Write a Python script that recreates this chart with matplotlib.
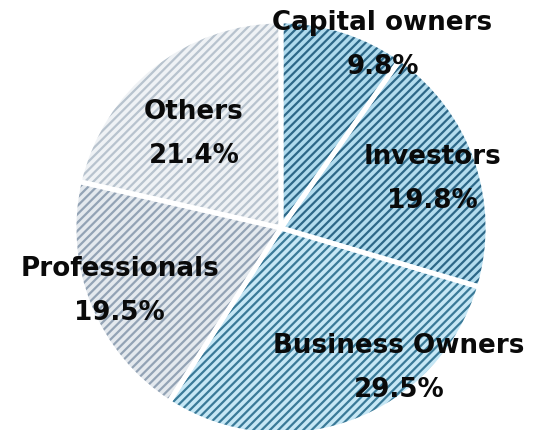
import matplotlib
matplotlib.use("Agg")
import matplotlib.pyplot as plt
import numpy as np

# data
labels = ["Capital owners", "Investors", "Business Owners", "Professionals", "Others"]
shares = [9.8, 19.8, 29.5, 19.5, 21.4]
face_colors = ["#afdaed", "#b3dcee", "#c6e7f5", "#e4e9ee", "#eff2f5"]
hatch_colors = ["#2d6888", "#2d6888", "#3a7a98", "#93a3b5", "#b8c3ce"]
# label centres, in pie radii from the centre
label_pos = [(0.49, 0.89), (0.73, 0.24), (0.57, -0.67), (-0.78, -0.30), (-0.42, 0.46)]

plt.rcParams["hatch.linewidth"] = 1.6

fig = plt.figure(figsize=(5.42, 4.31), dpi=100)
ax = fig.add_axes([0, 0, 1, 1])

wedges, _ = ax.pie(shares, startangle=90, counterclock=False, radius=1,
                   wedgeprops=dict(linewidth=0))
for w, fc, hc in zip(wedges, face_colors, hatch_colors):
    w.set_facecolor(fc)
    w.set_edgecolor(hc)
    w.set_hatch("////")

# white separators on top
ax.pie(shares, startangle=90, counterclock=False, radius=1,
       wedgeprops=dict(facecolor="none", edgecolor="white", linewidth=3.5))

for lab, val, (x, y) in zip(labels, shares, label_pos):
    ax.text(x, y, f"{lab}\n{val:.1f}%", ha="center", va="center",
            fontsize=18.8, fontweight="bold", linespacing=1.9,
            family="DejaVu Sans", color="#0a0a0a")

ax.set_xlim(-281 / 207, (542 - 281) / 207)
ax.set_ylim(-202 / 207, 229 / 207)
ax.set_aspect("equal")
ax.axis("off")

fig.savefig("out.png", dpi=100)
